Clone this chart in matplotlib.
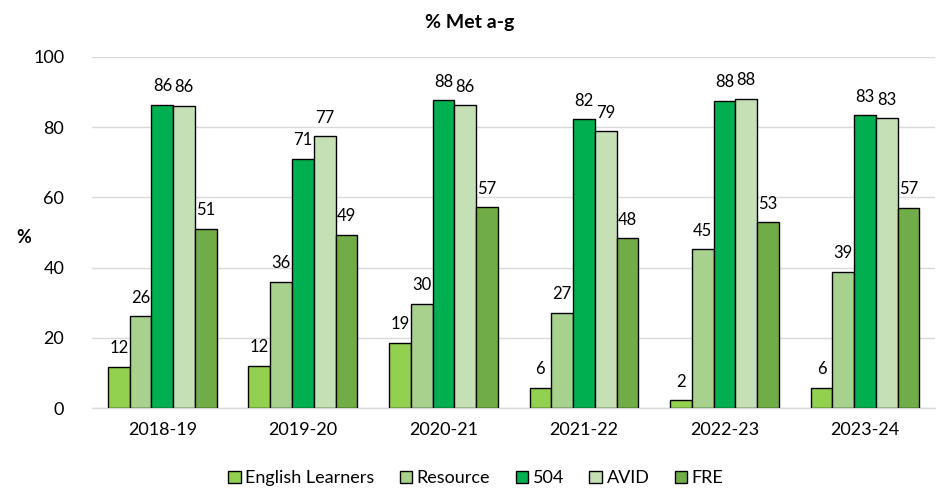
import matplotlib
matplotlib.use("Agg")
import matplotlib.pyplot as plt
import numpy as np

plt.rcParams['font.family'] = ['Lato', 'DejaVu Sans']

years = ["2018-19", "2019-20", "2020-21", "2021-22", "2022-23", "2023-24"]
groups = ["English Learners", "Resource", "504", "AVID", "FRE"]
english_learners = [11.7, 12.0, 18.6, 5.8, 2.2, 5.7]
resource = [26.1, 35.9, 29.7, 27.2, 45.2, 38.8]
s504 = [86.4, 71.0, 87.7, 82.3, 87.5, 83.4]
avid = [86.1, 77.4, 86.2, 78.8, 88.1, 82.6]
fre = [51.0, 49.4, 57.2, 48.3, 52.9, 57.0]
colors = ["#92D050", "#A9D18E", "#00B050", "#C5E0B4", "#70AD47"]

series = [english_learners, resource, s504, avid, fre]

fig = plt.figure(figsize=(9.4, 4.91), dpi=100)
ax = fig.add_axes([0.098, 0.169, 0.897, 0.715])

x = np.arange(len(years))
w = 0.155
for i, vals in enumerate(series):
    pos = x + (i - 2) * w
    bars = ax.bar(pos, vals, w, color=colors[i], edgecolor="black",
                  linewidth=1.0, label=groups[i], zorder=3)
    for b, v in zip(bars, vals):
        ax.text(b.get_x() + b.get_width() / 2, v + 3, f"{v:.0f}",
                ha="center", va="bottom", fontsize=12)

ax.set_xlim(-0.5, len(years) - 0.5)
ax.set_ylim(0, 100)
ax.set_yticks([0, 20, 40, 60, 80, 100])
ax.set_xticks(x)
ax.set_xticklabels(years, fontsize=13)
ax.tick_params(axis="y", labelsize=13, length=0, pad=20)
ax.tick_params(axis="x", length=0, pad=10)
ax.grid(axis="y", color="#D9D9D9", linewidth=1, zorder=0)
for s in ["top", "right", "left"]:
    ax.spines[s].set_visible(False)
ax.spines["bottom"].set_color("#D9D9D9")
ax.spines["bottom"].set_linewidth(1)

fig.text(0.5, 0.955, "% Met a-g", ha="center", va="center",
         fontsize=14, fontweight="bold")
fig.text(0.025, 0.517, "%", ha="center", va="center",
         fontsize=13, fontweight="bold")

ax.legend(loc="center", bbox_to_anchor=(0.455, -0.2), ncol=5, frameon=False,
          fontsize=13, handlelength=0.7, handleheight=0.7,
          handletextpad=0.25, columnspacing=1.4)

fig.savefig("out.png", dpi=100)
